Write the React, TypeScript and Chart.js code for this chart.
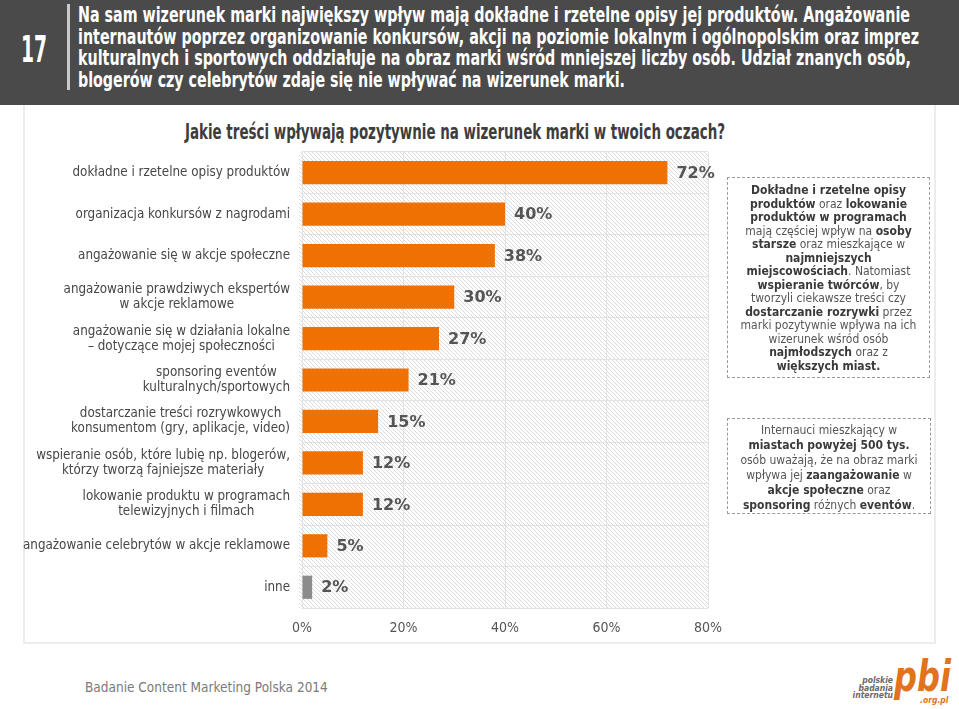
import React, { useEffect, useLayoutEffect, useRef } from "react";
import { Chart, registerables } from "chart.js";

Chart.register(...registerables);

// ---------- data ----------
const categories: string[][] = [
  ["dokładne i rzetelne opisy produktów"],
  ["organizacja konkursów z nagrodami"],
  ["angażowanie się w akcje społeczne"],
  ["angażowanie prawdziwych ekspertów", "w akcje reklamowe"],
  ["angażowanie się w działania lokalne", "– dotyczące mojej społeczności"],
  ["sponsoring eventów", "kulturalnych/sportowych"],
  ["dostarczanie treści rozrywkowych", "konsumentom (gry, aplikacje, video)"],
  ["wspieranie osób, które lubię np. blogerów,", "którzy tworzą fajniejsze materiały"],
  ["lokowanie produktu w programach", "telewizyjnych i filmach"],
  ["angażowanie celebrytów w akcje reklamowe"],
  ["inne"],
];
const values: number[] = [72, 40, 38, 30, 27, 21, 15, 12, 12, 5, 2];
const isOther: boolean[] = [false, false, false, false, false, false, false, false, false, false, true];
const xTicks: number[] = [0, 20, 40, 60, 80];

const headerLines: string[] = [
  "Na sam wizerunek marki największy wpływ mają dokładne i rzetelne opisy jej produktów. Angażowanie",
  "internautów poprzez organizowanie konkursów, akcji na poziomie lokalnym i ogólnopolskim oraz imprez",
  "kulturalnych i sportowych oddziałuje na obraz marki wśród mniejszej liczby osób. Udział znanych osób,",
  "blogerów czy celebrytów zdaje się nie wpływać na wizerunek marki.",
];
const headerWidths: number[] = [832, 841, 833, 547];
const chartTitle = "Jakie treści wpływają pozytywnie na wizerunek marki w twoich oczach?";
const footerText = "Badanie Content Marketing Polska 2014";

// ---------- styles ----------
const ORANGE = "#f07103";
const GRAY_BAR = "#8c8c8c";
const CONDENSED = "'Liberation Sans Narrow', 'DejaVu Sans Condensed', 'Liberation Sans', sans-serif";
const BODY = "'DejaVu Sans Condensed', 'DejaVu Sans', sans-serif";

function FitText({ text, width, style }: { text: string; width: number; style?: React.CSSProperties }) {
  const ref = useRef<HTMLSpanElement>(null);
  useLayoutEffect(() => {
    const el = ref.current;
    if (!el) return;
    el.style.transform = "none";
    const w = el.getBoundingClientRect().width;
    if (w > 0) el.style.transform = `scaleX(${width / w})`;
  });
  return (
    <span
      ref={ref}
      style={{ display: "inline-block", whiteSpace: "nowrap", transformOrigin: "left center", ...style }}
    >
      {text}
    </span>
  );
}

const hatchPlugin = {
  id: "hatchBg",
  beforeDraw(chart: any) {
    const { ctx, chartArea: a } = chart;
    const pc = document.createElement("canvas");
    pc.width = 4;
    pc.height = 4;
    const p = pc.getContext("2d")!;
    p.fillStyle = "#ffffff";
    p.fillRect(0, 0, 4, 4);
    p.fillStyle = "#dcdcdc";
    for (let i = 0; i < 4; i++) p.fillRect(i, i, 1, 1);
    const pat = ctx.createPattern(pc, "repeat");
    ctx.save();
    ctx.fillStyle = pat;
    ctx.fillRect(a.left - 3, a.top, a.right - a.left + 3, a.bottom - a.top);
    ctx.restore();
  },
};

const labelPlugin = {
  id: "labelsDraw",
  afterDatasetsDraw(chart: any) {
    const { ctx } = chart;
    const meta = chart.getDatasetMeta(0);
    ctx.save();
    ctx.font = "bold 16px 'DejaVu Sans', sans-serif";
    ctx.fillStyle = "#555555";
    ctx.textAlign = "left";
    ctx.textBaseline = "middle";
    meta.data.forEach((bar: any, i: number) => {
      ctx.fillText(`${values[i]}%`, bar.x + 9, bar.y + 1);
    });
    ctx.restore();
  },
  afterDraw(chart: any) {
    const { ctx } = chart;
    const yScale = chart.scales.y;
    const rightEdge = 290;
    const lh = 15;
    ctx.save();
    ctx.font = `13.3px ${BODY}`;
    ctx.fillStyle = "#474747";
    ctx.textBaseline = "middle";
    ctx.textAlign = "center";
    categories.forEach((lines, i) => {
      const y = yScale.getPixelForTick(i);
      const bw = Math.max(...lines.map((l) => ctx.measureText(l).width));
      const cx = rightEdge - bw / 2;
      lines.forEach((l, j) => {
        ctx.fillText(l, cx, y + (j - (lines.length - 1) / 2) * lh);
      });
    });
    ctx.restore();
  },
};

function BarChart() {
  const ref = useRef<HTMLCanvasElement>(null);
  useEffect(() => {
    if (!ref.current) return;
    const chart = new Chart(ref.current, {
      type: "bar",
      data: {
        labels: categories,
        datasets: [
          {
            data: values,
            backgroundColor: isOther.map((o) => (o ? GRAY_BAR : ORANGE)),
            barPercentage: 0.56,
            categoryPercentage: 1,
          },
        ],
      },
      options: {
        indexAxis: "y",
        responsive: false,
        animation: false,
        layout: { padding: { top: 12, right: 22, left: 0, bottom: 0 } },
        plugins: { legend: { display: false }, tooltip: { enabled: false } },
        scales: {
          x: {
            min: 0,
            max: 80,
            afterBuildTicks: (s: any) => {
              s.ticks = xTicks.map((v) => ({ value: v }));
            },
            ticks: {
              callback: (v: any) => `${v}%`,
              color: "#555555",
              font: { family: BODY, size: 14 },
              padding: 0,
              maxRotation: 0,
            },
            grid: { color: "#e2e2e2", drawTicks: true, tickLength: 12, tickColor: "rgba(0,0,0,0)" },
            border: { display: false },
            afterFit: (s: any) => {
              s.height = 40;
            },
          },
          y: {
            ticks: { display: false },
            grid: { color: "#e2e2e2", drawTicks: false, offset: true },
            border: { display: false },
            afterFit: (s: any) => {
              s.width = 302;
            },
          },
        },
      } as any,
      plugins: [hatchPlugin, labelPlugin],
    });
    return () => chart.destroy();
  }, []);
  return <canvas ref={ref} width={730} height={508} style={{ display: "block", width: 730, height: 508 }} />;
}

const b = (t: string) => <b style={{ color: "#3a3a3a" }}>{t}</b>;

export default function App() {
  return (
    <div
      style={{
        position: "absolute",
        left: 0,
        top: 0,
        width: 959,
        height: 709,
        overflow: "hidden",
        background: "#ffffff",
      }}
    >
      {/* header */}
      <div style={{ position: "absolute", left: 0, top: 0, width: 959, height: 105, background: "#4a4a4a" }} />
      <div style={{ position: "absolute", left: 21, top: 31, height: 36, lineHeight: "36px" }}>
        <FitText text="17" width={26} style={{ color: "#fff", fontFamily: CONDENSED, fontWeight: 700, fontSize: 38 }} />
      </div>
      <div style={{ position: "absolute", left: 67, top: 4, width: 3, height: 86, background: "#c9c9c9" }} />
      {headerLines.map((t, i) => (
        <div
          key={i}
          style={{ position: "absolute", left: 78, top: 5 + i * 21.5, height: 21, lineHeight: "21px" }}
        >
          <FitText
            text={t}
            width={headerWidths[i]}
            style={{ color: "#ffffff", fontFamily: CONDENSED, fontWeight: 700, fontSize: 20.5 }}
          />
        </div>
      ))}

      {/* panel */}
      <div
        style={{
          position: "absolute",
          left: 23,
          top: 105,
          width: 909,
          height: 537,
          borderLeft: "2px solid #ececec",
          borderRight: "2px solid #ececec",
          borderBottom: "2px solid #ececec",
        }}
      />

      {/* chart title */}
      <div style={{ position: "absolute", left: 185, top: 119, height: 25, lineHeight: "25px" }}>
        <FitText
          text={chartTitle}
          width={540}
          style={{ color: "#3d3d3d", fontFamily: CONDENSED, fontWeight: 700, fontSize: 22 }}
        />
      </div>

      {/* chart */}
      <div style={{ position: "absolute", left: 0, top: 140 }}>
        <BarChart />
      </div>

      {/* box 1 */}
      <div
        style={{
          position: "absolute",
          left: 727,
          top: 177,
          width: 201,
          height: 199,
          border: "1px dashed #9a9a9a",
          boxSizing: "content-box",
          fontFamily: BODY,
          fontSize: 12,
          lineHeight: "13.5px",
          color: "#555",
          textAlign: "center",
        }}
      >
        <div style={{ paddingTop: 6 }}>
          {b("Dokładne i rzetelne opisy")}
          <br />
          {b("produktów")} oraz {b("lokowanie")}
          <br />
          {b("produktów w programach")}
          <br />
          mają częściej wpływ na {b("osoby")}
          <br />
          {b("starsze")} oraz mieszkające w
          <br />
          {b("najmniejszych")}
          <br />
          {b("miejscowościach")}. Natomiast
          <br />
          {b("wspieranie twórców")}, by
          <br />
          tworzyli ciekawsze treści czy
          <br />
          {b("dostarczanie rozrywki")} przez
          <br />
          marki pozytywnie wpływa na ich
          <br />
          wizerunek wśród osób
          <br />
          {b("najmłodszych")} oraz z
          <br />
          {b("większych miast.")}
        </div>
      </div>

      {/* box 2 */}
      <div
        style={{
          position: "absolute",
          left: 727,
          top: 418,
          width: 202,
          height: 94,
          border: "1px dashed #9a9a9a",
          fontFamily: BODY,
          fontSize: 12,
          lineHeight: "15px",
          color: "#555",
          textAlign: "center",
        }}
      >
        <div style={{ paddingTop: 4 }}>
          Internauci mieszkający w
          <br />
          {b("miastach powyżej 500 tys.")}
          <br />
          osób uważają, że na obraz marki
          <br />
          wpływa jej {b("zaangażowanie")} w
          <br />
          {b("akcje społeczne")} oraz
          <br />
          {b("sponsoring")} różnych {b("eventów")}.
        </div>
      </div>

      {/* footer */}
      <div
        style={{
          position: "absolute",
          left: 85,
          top: 678,
          fontFamily: BODY,
          fontSize: 13.5,
          lineHeight: "18px",
          color: "#7a7a7a",
          whiteSpace: "nowrap",
        }}
      >
        {footerText}
      </div>

      {/* logo */}
      <div
        style={{
          position: "absolute",
          left: 850,
          top: 677,
          width: 43,
          textAlign: "right",
          fontFamily: BODY,
          fontWeight: 700,
          fontStyle: "italic",
          fontSize: 8.5,
          lineHeight: "7.5px",
          color: "#6a6a6a",
        }}
      >
        polskie
        <br />
        badania
        <br />
        internetu
      </div>
      <div style={{ position: "absolute", left: 894, top: 657, height: 40, lineHeight: "40px" }}>
        <FitText
          text="pbi"
          width={57}
          style={{ color: "#e2731c", fontFamily: CONDENSED, fontWeight: 700, fontStyle: "italic", fontSize: 42 }}
        />
      </div>
      <div
        style={{
          position: "absolute",
          left: 920,
          top: 695,
          fontFamily: BODY,
          fontWeight: 700,
          fontStyle: "italic",
          fontSize: 8.5,
          lineHeight: "10px",
          color: "#e2731c",
        }}
      >
        .org.pl
      </div>
    </div>
  );
}
